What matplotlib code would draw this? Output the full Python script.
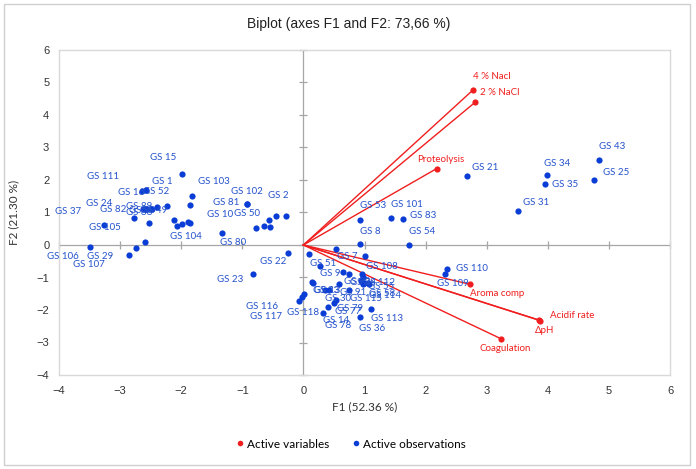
import numpy as np
import matplotlib
matplotlib.use('Agg')
import matplotlib.pyplot as plt
from matplotlib.lines import Line2D
from matplotlib.patches import Rectangle

# active variables (F1, F2 coordinates)
var_names = ['4 % Nacl', '2 % NaCl', 'Proteolysis', 'Aroma comp', 'Acidif rate', 'ΔpH', 'Coagulation']
var_f1 = [2.77, 2.81, 2.18, 2.73, 3.88, 3.86, 3.24]
var_f2 = [4.76, 4.39, 2.35, -1.21, -2.33, -2.31, -2.89]

# active observations (F1, F2 coordinates), '' = label not shown
obs_names = ['GS 21', 'GS 43', 'GS 34', 'GS 35', 'GS 25', 'GS 31', 'GS 53', 'GS 101', 'GS 83', 'GS 8',
             'GS 54', 'GS 7', 'GS 108', 'GS 51', 'GS 9', 'GS 110', 'GS 109', 'GS 113', 'GS 36', 'GS 14',
             'GS 78', 'GS 79', 'GS 77', 'GS 30', 'GS 91', 'GS 115', 'GS 33', 'GS 13', '', 'GS 92',
             'GS 94', 'GS 112', 'GS 55', '', 'GS 114', 'GS 58', '', '', 'GS 116', 'GS 117',
             'GS 118', 'GS 22', 'GS 23', 'GS 15', 'GS 103', 'GS 10', 'GS 1', 'GS 16', 'GS 52', 'GS 49',
             'GS 89', 'GS 90', 'GS 88', 'GS 111', 'GS 82', 'GS 24', 'GS 104', '', '', '',
             '', 'GS 105', 'GS 29', 'GS 106', 'GS 107', 'GS 37', 'GS 81', 'GS 102', 'GS 80', 'GS 50',
             'GS 2', '', '', '', '']
obs_f1 = [2.67, 4.84, 3.99, 3.96, 4.75, 3.51, 0.92, 1.44, 1.63, 0.93,
          1.73, 0.54, 1.00, 0.09, 0.27, 2.35, 2.31, 1.11, 0.93, 0.32,
          0.41, 0.53, 0.50, 0.36, 0.58, 0.75, 0.14, 0.16, 0.42, 0.65,
          0.75, 0.96, 0.97, 0.95, 0.99, 1.05, 1.08, 0.97, 0.01, -0.03,
          -0.08, -0.26, -0.83, -1.98, -1.83, -1.86, -2.23, -2.64, -2.58, -2.39,
          -2.47, -2.56, -2.57, -2.63, -2.78, -2.53, -2.11, -2.07, -1.99, -1.89,
          -1.86, -3.27, -3.49, -2.74, -2.85, -2.59, -0.92, -0.92, -1.33, -0.77,
          -0.29, -0.45, -0.65, -0.54, -0.57]
obs_f2 = [2.13, 2.62, 2.14, 1.87, 2.01, 1.05, 0.77, 0.82, 0.79, 0.03,
          0.01, -0.12, -0.34, -0.28, -0.64, -0.73, -0.90, -1.98, -2.21, -2.08,
          -1.92, -1.70, -1.80, -1.37, -1.21, -1.37, -1.13, -1.16, -1.37, -0.83,
          -0.90, -0.88, -1.00, -1.10, -1.17, -1.18, -1.20, -1.21, -1.51, -1.61,
          -1.72, -0.24, -0.89, 2.18, 1.51, 1.23, 1.19, 1.65, 1.68, 1.16,
          1.11, 1.11, 1.10, 1.11, 0.82, 0.69, 0.77, 0.59, 0.64, 0.71,
          0.67, 0.60, -0.07, -0.10, -0.32, 0.10, 1.27, 1.27, 0.36, 0.53,
          0.90, 0.89, 0.57, 0.55, 0.76]

# label offsets in pixels (left edge of text, vertical centre)
var_dx = [0, 5, -19, 0, 10, -4, -22]
var_dy = [14, 10, 9, -9, 5, -10, -10]
obs_dx = [5, 0, -3, 7, 9, 5, 0, 0, 7, 0,
          0, 1, 1, 1, 0, 9, -8, 0, -1, 0,
          -3, 1, 1, 0, 1, 1, 1, 1, 0, 1,
          1, 1, 5, 0, 5, 1, 0, 0, -58, -52,
          -12, -28, -36, -32, 6, 17, -15, -24, -3, -16,
          -26, -18, -20, -56, -34, -63, -4, 0, 0, 0,
          0, -15, -3, -89, -56, -90, -34, -16, -2, -22,
          -18, 0, 0, 0, 0]
obs_dy = [8, 13, 12, 0, 7, 8, 14, 14, 4, 13,
          13, -8, -10, -9, -8, 0, -9, -9, -12, -8,
          -18, -8, -8, -9, -8, -9, -9, -8, 0, -10,
          -8, -9, -9, 0, -12, -10, 0, 0, -12, -19,
          -12, -9, -6, 17, 14, -9, 25, -1, -1, -3,
          2, -2, -3, 32, 9, 19, -17, 0, 0, 0,
          0, -2, -9, -8, -9, 30, 1, 12, -9, 14,
          20, 0, 0, 0, 0]

red = '#F01E1E'
blue = '#0A3CD6'
lab_blue = '#2452CC'
grey = '#A6A6A6'
narrow = ['Liberation Sans Narrow', 'Liberation Sans']
label_font = ['Lato', 'DejaVu Sans']

fig = plt.figure(figsize=(6.96, 4.69), dpi=100)
fig.patches.append(Rectangle((4 / 696, 4 / 469), 686 / 696, 461 / 469, transform=fig.transFigure,
                             fill=False, edgecolor='#CFCFCF', lw=1))

ax = fig.add_axes([59 / 696, 1 - 375 / 469, 611 / 696, 325 / 469])
ax.set_xlim(-4, 6)
ax.set_ylim(-4, 6)
ticks = np.arange(-4, 7)
ax.set_xticks(ticks)
ax.set_yticks(ticks)
ax.tick_params(length=0, labelsize=8, labelcolor='#333333')
ax.tick_params(axis='x', pad=8)
ax.tick_params(axis='y', pad=7)
for t in ax.get_xticklabels() + ax.get_yticklabels():
    t.set_family(narrow)
for s in ax.spines.values():
    s.set_color('#D9D9D9')
    s.set_linewidth(1)

# axes through origin with cross ticks
ax.axhline(0, color=grey, lw=0.9, zorder=1)
ax.axvline(0, color=grey, lw=0.9, zorder=1)
ax.plot(ticks, np.zeros(len(ticks)), ls='none', marker='|', ms=6, mew=0.9, color=grey, clip_on=False, zorder=1)
ax.plot(np.zeros(len(ticks)), ticks, ls='none', marker='_', ms=6, mew=0.9, color=grey, clip_on=False, zorder=1)

# variable vectors
for x, y in zip(var_f1, var_f2):
    ax.plot([0, x], [0, y], color=red, lw=1, zorder=2)
ax.scatter(var_f1, var_f2, s=20, color=red, zorder=4, linewidths=0)
for n, x, y, dx, dy in zip(var_names, var_f1, var_f2, var_dx, var_dy):
    ax.annotate(n, (x, y), xytext=(dx, dy), textcoords='offset pixels', ha='left', va='center',
                fontsize=7, color=red, family=label_font, annotation_clip=False)

# observations
ax.scatter(obs_f1, obs_f2, s=20, color=blue, zorder=3, linewidths=0)
for n, x, y, dx, dy in zip(obs_names, obs_f1, obs_f2, obs_dx, obs_dy):
    if n:
        ax.annotate(n, (x, y), xytext=(dx, dy), textcoords='offset pixels', ha='left', va='center',
                    fontsize=7, color=lab_blue, family=label_font, annotation_clip=False)

fig.text(349 / 696, 1 - 24 / 469, 'Biplot (axes F1 and F2: 73,66 %)', ha='center', va='center',
         fontsize=10, color='#222222', family=narrow)
fig.text(364.5 / 696, 1 - 407 / 469, 'F1 (52.36 %)', ha='center', va='center', fontsize=8.5,
         color='#333333', family=label_font)
fig.text(14 / 696, 1 - 212 / 469, 'F2 (21.30 %)', ha='center', va='center', rotation=90,
         fontsize=8.5, color='#333333', family=label_font)

handles = [Line2D([], [], ls='none', marker='o', ms=4, color=red, mew=0),
           Line2D([], [], ls='none', marker='o', ms=4, color=blue, mew=0)]
fig.legend(handles, ['Active variables', 'Active observations'], loc='center',
           bbox_to_anchor=(350 / 696, 1 - 444 / 469), ncol=2, frameon=False,
           prop={'family': label_font, 'size': 8.5}, handletextpad=0.1, columnspacing=1.8,
           handlelength=1.0)

fig.savefig('out.png', dpi=100)
